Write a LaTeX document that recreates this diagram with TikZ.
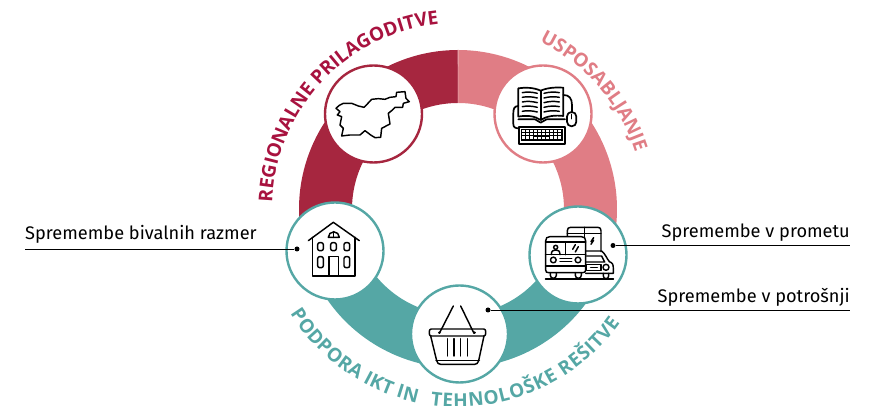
\documentclass[tikz,border=0pt]{standalone}
\usepackage{fontspec}
\setmainfont{Fira Sans}
\newfontfamily\headfont{Open Sans}
\usetikzlibrary{decorations.text}
\definecolor{ringred}{HTML}{A6263F}
\definecolor{ringpink}{HTML}{E07D85}
\definecolor{ringteal}{HTML}{55A7A5}
\definecolor{textred}{HTML}{A8123F}
\newcommand{\ringseg}[3]{\fill[#1] (#2:159) arc[start angle=#2,end angle=#3,radius=159] -- (#3:106) arc[start angle=#3,end angle=#2,radius=106] -- cycle;}
\newcommand{\arctext}[5]{\path[decorate,decoration={text along path,text align=fit to path,
  text={|\fontsize{19}{21}\headfont\bfseries\color{#1}|#2}}]
  (#3:#5) arc[start angle=#3,end angle=#4,radius=#5];}
\tikzset{
  x=1pt,y=1pt,
  badge/.style={circle,fill=white,draw=#1,line width=2.4pt,minimum size=97pt,inner sep=0pt},
  icon/.style={draw=black,line width=1.45pt,line join=round,line cap=round},
  lbl/.style={font=\fontsize{18.2}{20}\selectfont,inner sep=0pt,text=black},
  leader/.style={draw=black,line width=0.7pt},
  pin/.style={circle,fill=black,minimum size=5pt,inner sep=0pt},
  zoomed/.style={x=0.3333pt,y=-0.3333pt},
}
\begin{document}
\begin{tikzpicture}
\useasboundingbox (0,0) rectangle (879,406);
% ring
\begin{scope}[shift={(458,197)}]
\ringseg{ringred}{90}{200}
\ringseg{ringpink}{-20}{90}
\ringseg{ringteal}{200}{340}
\fill[white,opacity=.35] (89.8:106) -- (89.8:159) -- (90.2:159) -- (90.2:106) -- cycle;
\arctext{textred}{REGIONALNE PRILAGODITVE}{178}{96}{186}
\arctext{ringpink}{USPOSABLJANJE}{64}{18}{186}
\arctext{ringteal}{PODPORA IKT IN}{212}{258}{198}
\arctext{ringteal}{TEHNOLOŠKE REŠITVE}{262}{325}{198}
\end{scope}
% badges
\node[badge=ringred]  (map)    at (373.5,292) {};
\node[badge=ringpink] (book)   at (543,292) {};
\node[badge=ringteal] (bus)    at (578,151) {};
\node[badge=ringteal] (house)  at (335,155) {};
\node[badge=ringteal] (basket) at (459.5,72) {};
% slovenia
\begin{scope}[shift={(280,406)},zoomed]
\draw[icon] (168,325)--(178,316)--(190,310)--(215,310)--(235,318)--(252,322)--(262,312)--(275,298)--(295,296)--(315,298)--(330,292)--(348,290)--(350,277)--(375,275)--(378,295)--(388,305)--(370,310)--(368,322)--(345,322)--(335,332)--(325,340)--(330,372)--(305,385)--(302,412)--(285,413)--(272,405)--(255,392)--(240,405)--(210,405)--(185,408)--(190,385)--(180,375)--(185,350)--(172,345)--(180,335)--cycle;
\end{scope}
% book, keyboard, mouse
\begin{scope}[shift={(450,386)},zoomed]
\draw[icon,line width=1.7pt] (272,212) .. controls (250,202) and (225,202) .. (205,205) -- (205,290) .. controls (230,285) and (255,288) .. (272,300) .. controls (290,288) and (315,285) .. (340,288) -- (340,203) .. controls (320,202) and (295,202) .. (272,212) -- cycle;
\draw[icon,line width=1.7pt] (272,212) -- (272,300);
\foreach \y in {218,232,246,260,274}{
  \draw[icon] (217,\y) .. controls (232,\y-3) and (245,\y-2) .. (262,\y+2);
  \draw[icon] (282,\y+2) .. controls (298,\y-2) and (312,\y-3) .. (328,\y);
}
\draw[icon,line width=1.7pt] (205,258) .. controls (192,258) and (190,268) .. (190,280) -- (190,312) .. controls (190,322) and (196,325) .. (206,325);
\draw[icon,line width=1.7pt] (205,298) -- (255,298) -- (272,308) -- (290,298) -- (345,298);
\draw[icon,line width=1.7pt] (340,225) .. controls (358,225) and (366,235) .. (366,255) -- (366,276);
\draw[icon,line width=1.7pt,rounded corners=4.5pt] (351,276) rectangle (379,319);
\draw[icon] (365,283) -- (365,296);
\draw[icon,line width=1.7pt] (206,322) rectangle (345,372);
\fill[black] (212,326) rectangle (340,364);
\foreach \y in {329,339,349}{
  \foreach \x in {216,228,240,252,264,276,288,300,312,324}{
    \fill[white] (\x,\y) rectangle ++(10,7.5);
  }
}
\fill[black] (252,349) rectangle (300,350);
\end{scope}
% bus, coach and car
\begin{scope}[shift={(520,216)},zoomed]
\draw[icon] (142,138) -- (142,122) .. controls (142,115) and (146,112) .. (152,112) -- (233,112) .. controls (240,112) and (243,115) .. (243,122) -- (243,185);
\draw[icon] (142,130) -- (243,130);
\draw[icon] (193,112) -- (193,190);
\draw[icon] (213,155) -- (221,143) (213,163) -- (221,151);
\draw[icon] (197,183) -- (245,183) .. controls (255,190) and (260,205) .. (268,215) .. controls (278,218) and (280,225) .. (280,235) -- (280,250) -- (197,250);
\draw[icon] (200,198) -- (245,198) -- (254,216) -- (197,216);
\draw[icon] (200,224) rectangle (243,241);
\draw[icon] (212,232) -- (232,232);
\draw[icon] (258,232) circle (9);
\draw[icon] (250,250) -- (250,258) arc[start angle=180,end angle=0,radius=8] -- (266,250);
\draw[icon,fill=white] (77,153) .. controls (77,144) and (81,140) .. (90,140) -- (184,140) .. controls (193,140) and (197,144) .. (197,153) -- (197,240) .. controls (197,246) and (194,248) .. (188,248) -- (86,248) .. controls (80,248) and (77,246) .. (77,240) -- cycle;
\draw[icon] (77,156) -- (197,156);
\draw[icon] (77,194) -- (197,194);
\draw[icon] (137,156) -- (137,194);
\draw[icon] (107,172) circle (6);
\draw[icon] (94,194) .. controls (94,182) and (100,180) .. (107,180) .. controls (114,180) and (120,182) .. (120,194);
\draw[icon] (158,178) -- (166,164) (166,186) -- (175,170);
\draw[icon] (100,210) circle (8.5);
\draw[icon] (174,210) circle (8.5);
\draw[icon] (120,206) -- (155,206) (120,215) -- (155,215);
\draw[icon] (77,228) -- (197,228);
\draw[icon] (91,248) -- (91,256) arc[start angle=180,end angle=0,radius=9] -- (109,248);
\draw[icon] (166,248) -- (166,256) arc[start angle=180,end angle=0,radius=9] -- (184,248);
\draw[icon,line width=1.8pt] (77,266) -- (280,266);
\end{scope}
% house
\begin{scope}[shift={(280,216)},zoomed]
\draw[icon] (85,152) -- (160,97) -- (238,152);
\draw[icon] (97,142) -- (97,258) -- (225,258) -- (225,142);
\draw[icon] (147,258) -- (147,200) -- (175,200) -- (175,258);
\draw[icon] (145,142) arc[start angle=180,end angle=360,radius=16.5] -- cycle;
\draw[icon] (161,125) -- (161,142);
\foreach \x in {113,152,192}{
  \draw[icon,rounded corners=2pt] (\x,158) rectangle ++(17,24);
}
\foreach \x in {113,192}{
  \draw[icon,rounded corners=2pt] (\x,200) rectangle ++(17,33);
}
\end{scope}
% basket
\begin{scope}[shift={(400,126)},zoomed]
\draw[icon] (118,160) -- (160,78);
\draw[icon] (222,160) -- (182,78);
\draw[icon,rounded corners=2pt] (88,147) rectangle (257,168);
\fill (118,158) circle (4) (224,158) circle (4);
\draw[icon] (92,168) -- (110,242) .. controls (112,250) and (116,253) .. (122,253) -- (224,253) .. controls (230,253) and (234,250) .. (236,242) -- (252,168);
\draw[icon] (108,241) -- (238,241);
\foreach \x in {142,162,182,202}{ \draw[icon] (\x,176) -- (\x,228); }
\end{scope}
% labels and leaders
\node[pin] (pinhouse) at (297,157) {};
\node[pin] (pinbus) at (613,160.5) {};
\node[pin] (pinbasket) at (488,96) {};
\coordinate (endhouse) at (25,157);
\coordinate (endbus) at (850,160.5);
\coordinate (endbasket) at (850,96);
\draw[leader] (pinhouse) -- (endhouse);
\draw[leader] (pinbus) -- (endbus);
\draw[leader] (pinbasket) -- (endbasket);
\node[lbl,anchor=base west] (t1) at (25,166) {Spremembe bivalnih razmer};
\node[lbl,anchor=base east] (t2) at (850,168.3) {Spremembe v prometu};
\node[lbl,anchor=base east] (t3) at (850,103.7) {Spremembe v potrošnji};
\end{tikzpicture}
\end{document}
